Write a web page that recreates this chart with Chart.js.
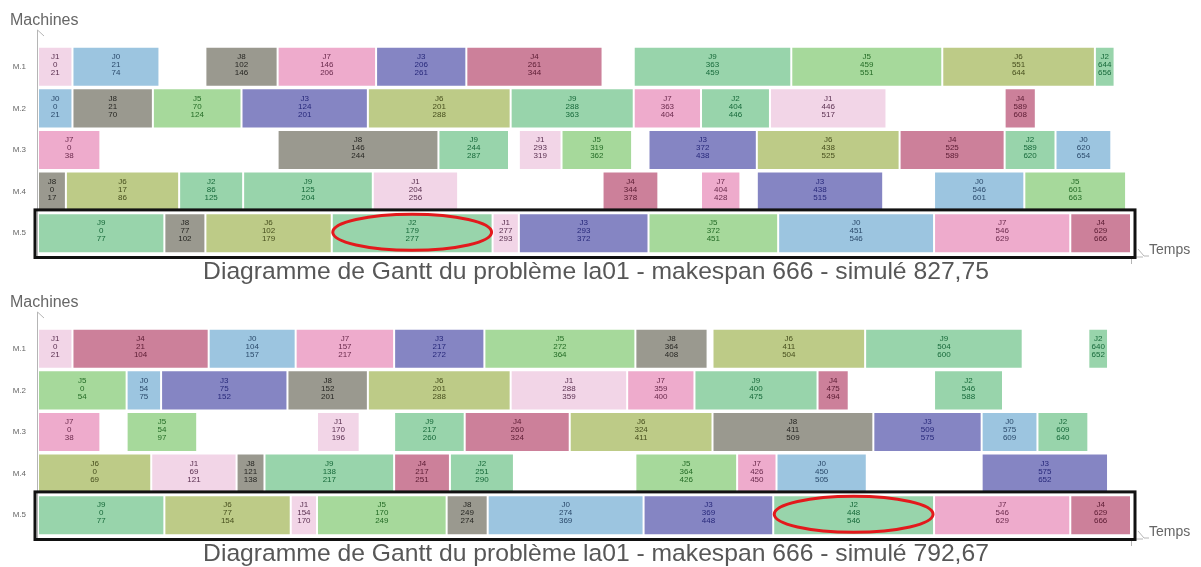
<!DOCTYPE html>
<html>
<head>
<meta charset="utf-8">
<script src="https://cdn.jsdelivr.net/npm/chart.js@4.4.0/dist/chart.umd.min.js"></script>
<style>
  html, body { margin: 0; padding: 0; background: #ffffff; }
  #wrap { position: relative; width: 1201px; height: 567px; overflow: hidden; }
  canvas { position: absolute; left: 0; }
</style>
</head>
<body>
<div id="wrap">
  <canvas id="c1" width="1201" height="292" style="top:0px"></canvas>
  <canvas id="c2" width="1201" height="285" style="top:282px"></canvas>
</div>
<script>
// ---------- DATA ----------
const jobs = ['J0', 'J1', 'J2', 'J3', 'J4', 'J5', 'J6', 'J7', 'J8', 'J9'];
const machines = ['M.1', 'M.2', 'M.3', 'M.4', 'M.5'];
const makespan = 666;
const titleA = 'Diagramme de Gantt du problème la01 - makespan 666 - simulé 827,75';
const titleB = 'Diagramme de Gantt du problème la01 - makespan 666 - simulé 792,67';

// Schedule A (top) — start / end per job (J0..J9), one array per machine
const aStartM1 = [21, 0, 644, 206, 261, 459, 551, 146, 102, 363];
const aEndM1   = [74, 21, 656, 261, 344, 551, 644, 206, 146, 459];
const aStartM2 = [0, 446, 404, 124, 589, 70, 201, 363, 21, 288];
const aEndM2   = [21, 517, 446, 201, 608, 124, 288, 404, 70, 363];
const aStartM3 = [620, 293, 589, 372, 525, 319, 438, 0, 146, 244];
const aEndM3   = [654, 319, 620, 438, 589, 362, 525, 38, 244, 287];
const aStartM4 = [546, 204, 86, 438, 344, 601, 17, 404, 0, 125];
const aEndM4   = [601, 256, 125, 515, 378, 663, 86, 428, 17, 204];
const aStartM5 = [451, 277, 179, 293, 629, 372, 102, 546, 77, 0];
const aEndM5   = [546, 293, 277, 372, 666, 451, 179, 629, 102, 77];

// Schedule B (bottom)
const bStartM1 = [104, 0, 640, 217, 21, 272, 411, 157, 364, 504];
const bEndM1   = [157, 21, 652, 272, 104, 364, 504, 217, 408, 600];
const bStartM2 = [54, 288, 546, 75, 475, 0, 201, 359, 152, 400];
const bEndM2   = [75, 359, 588, 152, 494, 54, 288, 400, 201, 475];
const bStartM3 = [575, 170, 609, 509, 260, 54, 324, 0, 411, 217];
const bEndM3   = [609, 196, 640, 575, 324, 97, 411, 38, 509, 260];
const bStartM4 = [450, 69, 251, 575, 217, 364, 0, 426, 121, 138];
const bEndM4   = [505, 121, 290, 652, 251, 426, 69, 450, 138, 217];
const bStartM5 = [274, 154, 448, 369, 629, 170, 77, 546, 249, 0];
const bEndM5   = [369, 170, 546, 448, 666, 249, 154, 629, 274, 77];

// Highlighted operation (job J2 on M.5)
const highlightJob = 2;
const highlightMachine = 4;

// ---------- STYLES ----------
const jobColors = ['#9cc5e0', '#f2d5e7', '#98d4ab', '#8585c3', '#cc809a',
                   '#a6d99b', '#bdcb87', '#eeabcc', '#9a998f', '#98d4ab'];
const jobTextColors = ['#2b4a6b', '#5a3050', '#17693a', '#27287a', '#5a1a32',
                       '#236b25', '#474f1e', '#6a2a4c', '#262622', '#17693a'];
const FONT = '"Liberation Sans", Arial, sans-serif';

function makeChart(canvasId, starts, ends, title, canvasH) {
  const datasets = jobs.map((job, j) => ({
    label: job,
    data: machines.map((m, i) => [starts[i][j], ends[i][j]]),
    backgroundColor: jobColors[j],
    borderColor: '#ffffff',
    borderWidth: 1,
    borderSkipped: false,
    grouped: false,
    barPercentage: 1,
    categoryPercentage: 0.964
  }));

  const deco = {
    id: 'deco',
    afterDatasetsDraw(chart) {
      const ctx = chart.ctx;
      ctx.save();
      ctx.font = '8px ' + FONT;
      ctx.textAlign = 'center';
      ctx.textBaseline = 'middle';
      chart.data.datasets.forEach((ds, j) => {
        const meta = chart.getDatasetMeta(j);
        meta.data.forEach((el, i) => {
          const v = ds.data[i];
          if (!v) return;
          const cx = (el.x + el.base) / 2;
          const cy = el.y - 2;
          ctx.fillStyle = jobTextColors[j];
          ctx.fillText(ds.label, cx, cy - 8);
          ctx.fillText(String(v[0]), cx, cy);
          ctx.fillText(String(v[1]), cx, cy + 8);
        });
      });
      ctx.restore();
    },
    afterDraw(chart) {
      const ctx = chart.ctx;
      const xs = chart.scales.x, ys = chart.scales.y;
      const area = chart.chartArea;
      const axisX = area.left - 1;
      const axisY = area.bottom + 3;
      const endX = xs.getPixelForValue(makespan);
      ctx.save();
      // axes
      ctx.strokeStyle = '#b5b5b5';
      ctx.lineWidth = 1;
      ctx.beginPath();
      ctx.moveTo(axisX + 0.5, 30);
      ctx.lineTo(axisX + 0.5, axisY);
      ctx.lineTo(endX + 12, axisY);
      ctx.stroke();
      ctx.beginPath();
      ctx.moveTo(axisX + 0.5, 30);
      ctx.lineTo(axisX + 7, 36);
      ctx.stroke();
      ctx.beginPath();
      ctx.moveTo(endX + 7, axisY - 8);
      ctx.lineTo(endX + 13, axisY - 1);
      ctx.lineTo(endX + 18, axisY - 1);
      ctx.stroke();
      ctx.beginPath();
      ctx.moveTo(endX + 0.5, axisY);
      ctx.lineTo(endX + 0.5, axisY + 7);
      ctx.stroke();
      // axis titles
      ctx.fillStyle = '#666666';
      ctx.textBaseline = 'alphabetic';
      ctx.textAlign = 'left';
      ctx.font = '16px ' + FONT;
      ctx.fillText('Machines', 10, 25);
      ctx.font = '14px ' + FONT;
      ctx.fillText('Temps', endX + 18, axisY - 3);
      // highlighted row frame (M.5)
      const rowY = ys.getPixelForValue(highlightMachine);
      const half = (ys.getPixelForValue(1) - ys.getPixelForValue(0)) / 2;
      ctx.strokeStyle = '#111111';
      ctx.lineWidth = 3;
      ctx.strokeRect(area.left - 3, rowY - half - 2.5, endX - area.left + 7, 2 * half + 6);
      // red ellipse around the highlighted operation
      const el = chart.getDatasetMeta(highlightJob).data[highlightMachine];
      const ex = (el.x + el.base) / 2;
      const erx = Math.abs(el.x - el.base) / 2 - 1;
      ctx.strokeStyle = '#e3191c';
      ctx.lineWidth = 3;
      ctx.beginPath();
      ctx.ellipse(ex, rowY - 1, erx, 18, 0, 0, Math.PI * 2);
      ctx.stroke();
      // chart title
      ctx.fillStyle = '#575757';
      ctx.textAlign = 'center';
      ctx.font = '100px ' + FONT;
      const w = ctx.measureText(title).width;
      const size = 100 * 786 / w;
      ctx.font = size.toFixed(2) + 'px ' + FONT;
      ctx.fillText(title, 596, 279);
      ctx.restore();
    }
  };

  return new Chart(document.getElementById(canvasId), {
    type: 'bar',
    data: { labels: machines, datasets },
    options: {
      indexAxis: 'y',
      responsive: false,
      animation: false,
      devicePixelRatio: 1,
      layout: { padding: { left: 0, top: 46, right: 1201 - 1131, bottom: canvasH - 254 } },
      plugins: { legend: { display: false }, tooltip: { enabled: false }, title: { display: false } },
      scales: {
        x: { type: 'linear', min: 0, max: makespan, display: false },
        y: {
          grid: { display: false, drawTicks: false },
          border: { display: false },
          ticks: { color: '#666666', font: { size: 8, family: FONT }, padding: 12 },
          afterFit(scale) { scale.width = 38; }
        }
      }
    },
    plugins: [deco]
  });
}

makeChart('c1', [aStartM1, aStartM2, aStartM3, aStartM4, aStartM5],
                [aEndM1, aEndM2, aEndM3, aEndM4, aEndM5], titleA, 292);
makeChart('c2', [bStartM1, bStartM2, bStartM3, bStartM4, bStartM5],
                [bEndM1, bEndM2, bEndM3, bEndM4, bEndM5], titleB, 285);
</script>
</body>
</html>
